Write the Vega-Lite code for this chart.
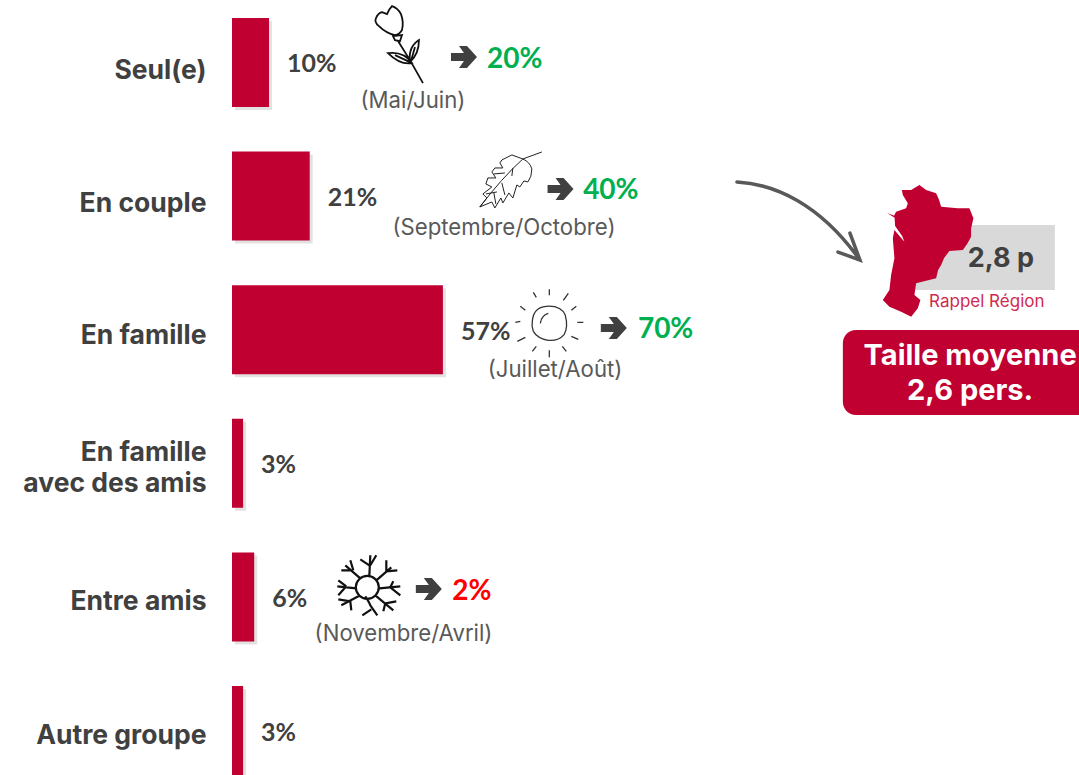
{
"$schema":"https://vega.github.io/schema/vega-lite/v6.json",
"width":847,"height":775,"autosize":"none","padding":{"left":232,"top":0,"right":0,"bottom":0},
"background":"white",
"config":{"view":{"stroke":null}},
"datasets":{
"groups":[
{"group":"Seul(e)","share":10},
{"group":"En couple","share":21},
{"group":"En famille","share":57},
{"group":"En famille avec des amis","share":3},
{"group":"Entre amis","share":6},
{"group":"Autre groupe","share":3}],
"periods":[
{"text":"(Mai/Juin)","at":48.9,"row":1.281},
{"text":"(Septembre/Octobre)","at":73.5,"row":2.231},
{"text":"(Juillet/Août)","at":87.3,"row":3.294},
{"text":"(Novembre/Avril)","at":46.35,"row":5.27}],
"targets":[
{"text":"20%","at":68.9,"row":0.966,"direction":"up"},
{"text":"40%","at":94.9,"row":1.947,"direction":"up"},
{"text":"70%","at":109.7,"row":2.987,"direction":"up"},
{"text":"2%","at":59.5,"row":4.948,"direction":"down"}],
"arrows":[
{"at":62.7,"row":0.959},{"at":88.8,"row":1.947},{"at":103.2,"row":2.987},{"at":53.2,"row":4.94}],
"icons":[
{"icon":"tulip","at":45.4,"row":0.862},
{"icon":"leaf","at":75.1,"row":1.879},
{"icon":"sun","at":85.76,"row":2.952},
{"icon":"snow","at":36.57,"row":4.928},
{"icon":"map","at":187.6,"row":2.403},
{"icon":"curve","at":153.5,"row":2.194}],
"panels":[
{"panel":"grey","at":184.6,"atEnd":222.4,"row":2.216,"rowEnd":2.703},
{"panel":"red","at":165.1,"atEnd":228.92,"row":3.002,"rowEnd":3.638}],
"callouts":[
{"kind":"region","text":"2,8 p","at":207.8,"row":2.463},
{"kind":"caption","text":"Rappel Région","at":204,"row":2.793},
{"kind":"size","text":"Taille moyenne","at":199.5,"row":3.197},
{"kind":"size","text":"2,6 pers.","at":199.5,"row":3.459}]
},
"layer":[
{
"data":{"name":"groups"},
"transform":[{"calculate":"datum.share + '%'","as":"label"}],
"encoding":{
"y":{"field":"group","type":"nominal","sort":null,"title":null,
"scale":{"paddingInner":0.334,"paddingOuter":0.067,"align":1},
"axis":{"domain":false,"ticks":false,"labelPadding":26,"labelFont":"Inter","labelFontWeight":"bold","labelFontSize":26.5,"labelColor":"#404040","labelLineHeight":31,"labelLimit":400,
"labelOffset":{"expr":"datum.value=='Seul(e)' ? 9 : datum.value=='En couple' ? 8 : datum.value=='En famille' ? 6 : datum.value=='En famille avec des amis' ? -10 : 5"},
"labelExpr":"datum.value=='En famille avec des amis' ? ['En famille','avec des amis'] : datum.label"}},
"x":{"field":"share","type":"quantitative","title":null,"axis":null,"scale":{"domain":[0,228.92],"nice":false,"zero":false}}
},
"layer":[
{"mark":{"type":"bar","color":"#bfbfbf","opacity":0.45,"xOffset":3,"yOffset":3}},
{"mark":{"type":"bar","color":"#c00030"}},
{"mark":{"type":"text","align":"left","baseline":"middle","dx":18,"dy":2,"font":"Lato","fontWeight":"bold","fontSize":25,"color":"#404040"},
"encoding":{"text":{"field":"label","type":"nominal"}}}
]
},
{
"encoding":{
"y":{"field":"row","type":"quantitative","axis":null,"title":null,"scale":{"domain":[0.532,6.333],"reverse":true,"nice":false,"zero":false}},
"x":{"field":"at","type":"quantitative","title":null,"axis":null}
},
"layer":[
{"data":{"name":"panels"},"transform":[{"filter":"datum.panel=='grey'"}],
"mark":{"type":"rect","color":"#d9d9d9"},
"encoding":{"x2":{"field":"atEnd"},"y2":{"field":"rowEnd"}}},
{"data":{"name":"panels"},"transform":[{"filter":"datum.panel=='red'"}],
"mark":{"type":"rect","color":"#c00030","cornerRadiusTopLeft":13,"cornerRadiusBottomLeft":13},
"encoding":{"x2":{"field":"atEnd"},"y2":{"field":"rowEnd"}}},
{"data":{"name":"periods"},
"mark":{"type":"text","align":"center","baseline":"middle","dy":1,"font":"Inter","fontSize":22.2,"color":"#595959"},
"encoding":{"text":{"field":"text"}}},
{"data":{"name":"targets"},
"mark":{"type":"text","align":"left","baseline":"middle","dy":2,"font":"Lato","fontWeight":"bold","fontSize":28},
"encoding":{"text":{"field":"text"},"color":{"field":"direction","type":"nominal","legend":null,"scale":{"domain":["up","down"],"range":["#00b050","#ff0000"]}}}},
{"data":{"name":"arrows"},
"mark":{"type":"point","filled":true,"size":4,"opacity":1,"color":"#404040",
"shape":"M-13,-4 H0 L-5,-11 H3 L13,0 L3,11 H-5 L0,4 H-13 Z"}},
{"data":{"name":"icons"},"transform":[{"filter":"datum.icon=='tulip'"}],
"mark":{"type":"point","size":4,"opacity":1,"stroke":"#111111","strokeWidth":1.8,"fill":null,
"shape":"M-18,-32 L-13,-30 Q-11,-35 -8,-38 Q-2,-36 1,-30 Q4,-22 2,-14 Q-1,-9 -5,-9 Q-14,-11 -21,-18 Q-26,-22 -24,-26 Q-22,-31 -18,-32 Z M-7,-8 L2,-9 L0,-3 L-5,-4 Z M-2,-3 L10,16 L23,39 M-12,9 Q4,7 12,19 Q0,21 -12,9 Z M-5,11 L10,18 M19,-4 Q8,3 10,18 Q19,10 19,-4 Z M15,3 L11,17"}},
{"data":{"name":"icons"},"transform":[{"filter":"datum.icon=='leaf'"}],
"mark":{"type":"point","size":4,"opacity":1,"stroke":"#222222","strokeWidth":1,"fill":null,
"shape":"M13,-21 Q20,-18 22,-11 Q22,-3 18,2 L14,1 L10,7 L7,5 L3,18 L-1,13 L-7,23 L-9,18 L-15,28 L-18,22 L-30,27 L-23,18 L-27,14 L-18,7 L-24,4 L-22,-2 L-14,-2 L-18,-8 L-15,-12 L-7,-12 L-10,-17 L-8,-20 L2,-25 Z M32,-28 L13,-21 Q-8,-2 -30,27 M3,-12 L2,-4 M-8,3 L-5,15 M-16,13 L-14,24 M-5,-7 L-16,-6 M-13,12 L-24,14"}},
{"data":{"name":"icons"},"transform":[{"filter":"datum.icon=='sun'"}],
"mark":{"type":"point","size":4,"opacity":1,"stroke":"#333333","strokeWidth":1.3,"fill":null,
"shape":"M-17,-2 Q-16,-16 -3,-17 Q12,-18 16,-8 Q19,3 15,11 Q9,18 -1,17 Q-12,15 -16,8 Q-18,3 -17,-2 Z M-9,0 Q-8,-8 -1,-10 M0,-34 L0,-28 M-16,-31 L-13,-26 M19,-30 L14,-23 M27,-17 L22,-13 M28,-1 L34,-1 M22,13 L29,16 M13,23 L17,28 M0,27 L0,34 M-13,23 L-17,28 M-24,14 L-32,18 M-29,-2 L-34,-1 M-29,-17 L-24,-13"}},
{"data":{"name":"icons"},"transform":[{"filter":"datum.icon=='snow'"}],
"mark":{"type":"point","size":4,"opacity":1,"stroke":"#111111","strokeWidth":2.2,"fill":null,
"shape":"M11.5,0 A11.5,11.5 0 1 1 -11.5,0 A11.5,11.5 0 1 1 11.5,0 Z M2,-11 L3,-32 M-7,-28 L2,-22 M9,-32 L3,-22 M9,-7 L24,-20 M19,-27 L19,-16 M30,-17 L19,-16 M12,1 L33,-1 M26,-6 L23,0 M33,8 L23,0 M8,8 L26,23 M29,14 L18,16 M16,24 L18,16 M-2,9 Q2,15 3,18 L10,28 M-5,28 L4,22 M-7,8 L-26,18 M-16,23 L-17,14 M-29,12 L-17,14 M-11,1 L-30,-1 M-29,-7 L-21,-1 M-29,8 L-21,-1 M-7,-9 L-22,-22 M-26,-17 L-14,-17 M-17,-27 L-14,-17"}},
{"data":{"name":"icons"},"transform":[{"filter":"datum.icon=='curve'"}],
"mark":{"type":"point","size":4,"opacity":1,"stroke":"#595959","strokeWidth":3.5,"fill":null,"strokeCap":"round",
"shape":"M-63,-40 C-25,-38 20,-18 60,38 M50,11 L60,38 L38,30"}},
{"data":{"name":"icons"},"transform":[{"filter":"datum.icon=='map'"}],
"mark":{"type":"point","filled":true,"size":4,"opacity":1,"color":"#c00030",
"shape":"M-24.3,-60 L-15,-60 L-6.7,-65 L0,-60 L10,-56.7 L13,-50 L15,-43.3 L31.7,-41.7 L43.3,-41.7 L47.3,-31.7 L45,-21.7 L45,-13.3 L41,-6 L36.7,0 L23.3,1 L18,8 L15,15 L12,20 L10,28.3 L-10,33.3 L-11.7,45 L-5.7,50 L-8.3,58.3 L-15,66.7 L-25,61.7 L-36.7,56.7 L-43.3,50 L-36.7,40 L-35,25 L-31.7,8.3 L-33.3,-11.7 L-31.7,-20 L-21.7,-8.3 L-24,-14 L-31,-24 L-31.7,-35 L-30,-38.3 L-20,-41.7 L-18.3,-46.7 L-23.3,-55 Z M-39,-37 L-31,-34 L-31,-32 Z"}},
{"data":{"name":"callouts"},"transform":[{"filter":"datum.kind=='region'"}],
"mark":{"type":"text","align":"center","baseline":"middle","dy":1,"font":"Inter","fontWeight":"bold","fontSize":27,"color":"#404040"},
"encoding":{"text":{"field":"text"}}},
{"data":{"name":"callouts"},"transform":[{"filter":"datum.kind=='caption'"}],
"mark":{"type":"text","align":"center","baseline":"middle","dy":0,"font":"Inter","fontSize":17,"color":"#cf2b50"},
"encoding":{"text":{"field":"text"}}},
{"data":{"name":"callouts"},"transform":[{"filter":"datum.kind=='size'"}],
"mark":{"type":"text","align":"center","baseline":"middle","dy":0,"font":"Inter","fontWeight":"bold","fontSize":29,"color":"white"},
"encoding":{"text":{"field":"text"}}}
]
}
],
"resolve":{"scale":{"y":"independent"}}
}
